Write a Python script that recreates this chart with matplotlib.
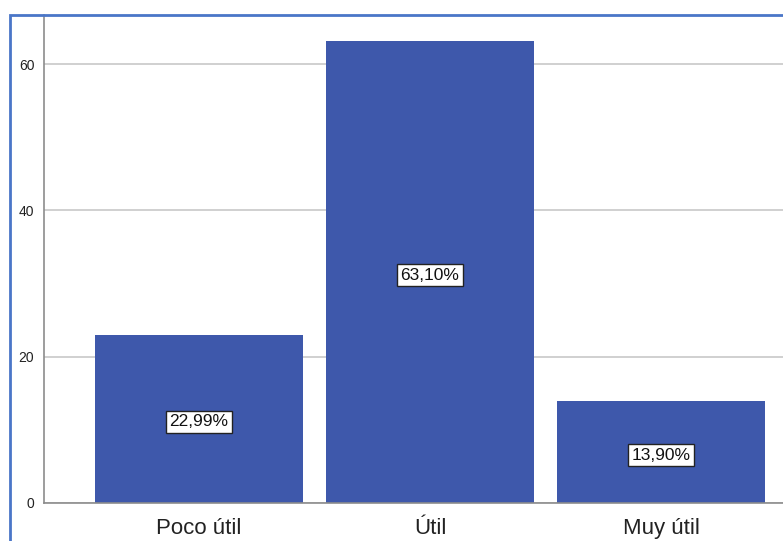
import matplotlib.pyplot as plt
from matplotlib.patches import Rectangle

# datos del grafico
categorias = ['Poco útil', 'Útil', 'Muy útil']
porcentajes = [22.99, 63.10, 13.90]
etiquetas = ['22,99%', '63,10%', '13,90%']
yticks = [0, 20, 40, 60]

plt.rcParams['font.family'] = ['Liberation Sans', 'DejaVu Sans']

fig = plt.figure(figsize=(7.83, 5.41), dpi=100)
ax = fig.add_axes([44 / 783, 38 / 541, 1 - 44 / 783, (503 - 15) / 541])

x = list(range(len(categorias)))
ax.bar(x, porcentajes, width=0.9, color='#3e58ab', zorder=2)

for xi, v, t in zip(x, porcentajes, etiquetas):
    ax.text(xi, v / 2 - 0.4, t, ha='center', va='center', fontsize=12.5, color='#111111', zorder=3,
            bbox=dict(boxstyle='square,pad=0.22', facecolor='white', edgecolor='#222222', linewidth=1))

ax.set_xlim(-0.671, 2.528)
ax.set_ylim(0, 66.7)
ax.set_xticks(x)
ax.set_xticklabels(categorias, fontsize=16, color='#222222')
ax.set_yticks(yticks)
ax.set_yticklabels([str(v) for v in yticks], fontsize=10, color='#222222')
ax.tick_params(length=0, pad=7)
ax.tick_params(axis='x', pad=11)
ax.yaxis.grid(True, color='#c8c8c8', linewidth=1.2, zorder=0)

for s in ['top', 'right']:
    ax.spines[s].set_visible(False)
for s in ['left', 'bottom']:
    ax.spines[s].set_color('#8c8c8c')
    ax.spines[s].set_linewidth(1.2)

# borde azul del grafico (recortado a la derecha y abajo)
fig.patches.append(Rectangle((10 / 783, -0.1), 1.2, (541 - 15) / 541 + 0.1, transform=fig.transFigure,
                             fill=False, edgecolor='#4a76c8', linewidth=2, zorder=5))

plt.savefig('out.png', dpi=100)
